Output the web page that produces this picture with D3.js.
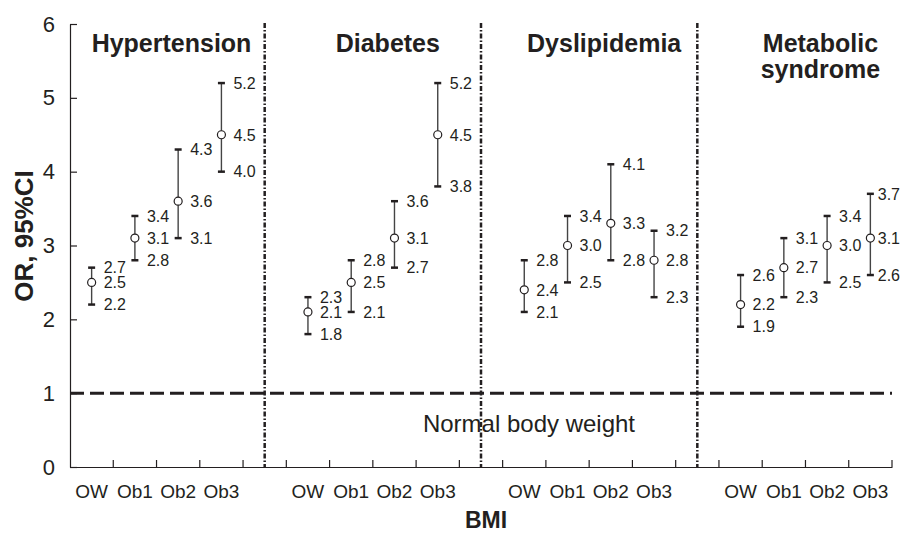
<!DOCTYPE html>
<html>
<head>
<meta charset="utf-8">
<script src="https://cdn.jsdelivr.net/npm/d3@7"></script>
<style>
  body { margin: 0; background: #fff; }
  svg { display: block; font-family: "Liberation Sans", Arial, sans-serif; }
  text { fill: #231f20; }
</style>
</head>
<body>
<div class="chart"></div>
<script>
// Data
var categories = ["OW", "Ob1", "Ob2", "Ob3"];
var diseases = [["Hypertension"], ["Diabetes"], ["Dyslipidemia"], ["Metabolic", "syndrome"]];
var orValues = [
  [2.5, 3.1, 3.6, 4.5],
  [2.1, 2.5, 3.1, 4.5],
  [2.4, 3.0, 3.3, 2.8],
  [2.2, 2.7, 3.0, 3.1]
];
var ciLower = [
  [2.2, 2.8, 3.1, 4.0],
  [1.8, 2.1, 2.7, 3.8],
  [2.1, 2.5, 2.8, 2.3],
  [1.9, 2.3, 2.5, 2.6]
];
var ciUpper = [
  [2.7, 3.4, 4.3, 5.2],
  [2.3, 2.8, 3.6, 5.2],
  [2.8, 3.4, 4.1, 3.2],
  [2.6, 3.1, 3.4, 3.7]
];
var yTicks = [0, 1, 2, 3, 4, 5, 6];
var referenceOR = 1;
var referenceLabel = "Normal body weight";
var yTitle = "OR, 95%CI";
var xTitle = "BMI";

// Layout
var width = 902;
var height = 533;
var plot = { left: 70, right: 892, top: 24, bottom: 467 };
var ink = "#231f20";

var svg = d3.select(".chart")
  .append("svg")
  .attr("width", width)
  .attr("height", height);

// One slot per category, plus an empty slot between disease groups
var slots = [];
diseases.forEach(function (d, i) {
  categories.forEach(function (c) { slots.push(i + "|" + c); });
  if (i < diseases.length - 1) slots.push("gap" + i);
});

var x = d3.scaleBand()
  .domain(slots)
  .range([plot.left, plot.right]);

var y = d3.scaleLinear()
  .domain([0, 6])
  .range([plot.bottom, plot.top]);

// Y axis
var yAxis = svg.append("g")
  .attr("transform", "translate(" + plot.left + ",0)")
  .call(d3.axisLeft(y)
    .tickValues(yTicks)
    .tickFormat(d3.format("d"))
    .tickSizeInner(-7)
    .tickSizeOuter(0)
    .tickPadding(15));
yAxis.select(".domain").attr("stroke", ink).attr("stroke-width", 1.2);
yAxis.selectAll(".tick line").attr("stroke", ink).attr("stroke-width", 1.2);
yAxis.selectAll(".tick text")
  .style("font-size", "22px")
  .style("font-family", "Liberation Sans, Arial, sans-serif")
  .attr("fill", ink);

// X axis: labels at band centres, tick marks at band edges
var xAxis = svg.append("g")
  .attr("transform", "translate(0," + plot.bottom + ")")
  .call(d3.axisBottom(x)
    .tickSize(0)
    .tickPadding(18)
    .tickFormat(function (d) { return d.indexOf("|") > 0 ? d.split("|")[1] : ""; }));
xAxis.select(".domain").attr("stroke", ink).attr("stroke-width", 1.2);
xAxis.selectAll(".tick text")
  .style("font-size", "19px")
  .style("font-family", "Liberation Sans, Arial, sans-serif")
  .attr("fill", ink);

var edges = slots.map(function (s) { return x(s); }).slice(1).concat([plot.right]);
svg.append("g").selectAll("line")
  .data(edges)
  .enter().append("line")
  .attr("x1", function (d) { return d; })
  .attr("x2", function (d) { return d; })
  .attr("y1", plot.bottom)
  .attr("y2", plot.bottom - 7)
  .attr("stroke", ink)
  .attr("stroke-width", 1.2);

// Reference line OR = 1
svg.append("line")
  .attr("x1", plot.left)
  .attr("x2", plot.right)
  .attr("y1", y(referenceOR))
  .attr("y2", y(referenceOR))
  .attr("stroke", ink)
  .attr("stroke-width", 3)
  .attr("stroke-dasharray", "14,6");

svg.append("text")
  .attr("x", 529)
  .attr("y", 432)
  .attr("text-anchor", "middle")
  .style("font-size", "24px")
  .text(referenceLabel);

// Dash-dot dividers between groups
svg.append("g").selectAll("line")
  .data(slots.filter(function (s) { return s.indexOf("gap") === 0; }))
  .enter().append("line")
  .attr("x1", function (d) { return x(d) + x.bandwidth() / 2; })
  .attr("x2", function (d) { return x(d) + x.bandwidth() / 2; })
  .attr("y1", y(6) - 1)
  .attr("y2", plot.bottom)
  .attr("stroke", ink)
  .attr("stroke-width", 2.5)
  .attr("stroke-dasharray", "5,2,1.5,2");

// Group titles
var titles = svg.append("g").selectAll("text")
  .data(diseases)
  .enter().append("text")
  .attr("text-anchor", "middle")
  .attr("y", 52)
  .style("font-size", "25px")
  .style("font-weight", "bold");
titles.each(function (lines, i) {
  var cx = x(i + "|" + categories[2]) + 15;
  d3.select(this).selectAll("tspan")
    .data(lines)
    .enter().append("tspan")
    .attr("x", cx)
    .attr("dy", function (d, j) { return j === 0 ? 0 : 26; })
    .text(function (d) { return d; });
});

// Error bars, points and value labels
var fmt = d3.format(".1f");
var points = [];
diseases.forEach(function (d, i) {
  categories.forEach(function (c, j) {
    points.push({
      cx: x(i + "|" + c) + x.bandwidth() / 2,
      or: orValues[i][j],
      lo: ciLower[i][j],
      hi: ciUpper[i][j]
    });
  });
});

var bars = svg.append("g").selectAll("g")
  .data(points)
  .enter().append("g");

bars.append("line")
  .attr("x1", function (d) { return d.cx; })
  .attr("x2", function (d) { return d.cx; })
  .attr("y1", function (d) { return y(d.lo); })
  .attr("y2", function (d) { return y(d.hi); })
  .attr("stroke", "#444")
  .attr("stroke-width", 1.4);

bars.selectAll(".cap")
  .data(function (d) { return [{ cx: d.cx, v: d.lo }, { cx: d.cx, v: d.hi }]; })
  .enter().append("line")
  .attr("class", "cap")
  .attr("x1", function (d) { return d.cx - 3.5; })
  .attr("x2", function (d) { return d.cx + 3.5; })
  .attr("y1", function (d) { return y(d.v); })
  .attr("y2", function (d) { return y(d.v); })
  .attr("stroke", ink)
  .attr("stroke-width", 2.5);

bars.append("circle")
  .attr("cx", function (d) { return d.cx; })
  .attr("cy", function (d) { return y(d.or); })
  .attr("r", 4)
  .attr("fill", "#fff")
  .attr("stroke", ink)
  .attr("stroke-width", 1.2);

bars.selectAll(".val")
  .data(function (d) {
    return [d.hi, d.or, d.lo].map(function (v) { return { cx: d.cx, v: v }; });
  })
  .enter().append("text")
  .attr("class", "val")
  .attr("y", function (d) { return y(d.v); })
  .attr("dy", "0.36em")
  .style("font-size", "16px")
  .text(function (d) { return fmt(d.v); })
  .attr("x", function (d) {
    var w = this.getComputedTextLength();
    return Math.min(d.cx + 12, width - 2 - w);
  });

// Axis titles
svg.append("text")
  .attr("transform", "translate(33," + 236 + ") rotate(-90)")
  .attr("text-anchor", "middle")
  .style("font-size", "26px")
  .style("font-weight", "bold")
  .text(yTitle);

svg.append("text")
  .attr("x", 486)
  .attr("y", 528)
  .attr("text-anchor", "middle")
  .style("font-size", "23px")
  .style("font-weight", "bold")
  .text(xTitle);
</script>
</body>
</html>
